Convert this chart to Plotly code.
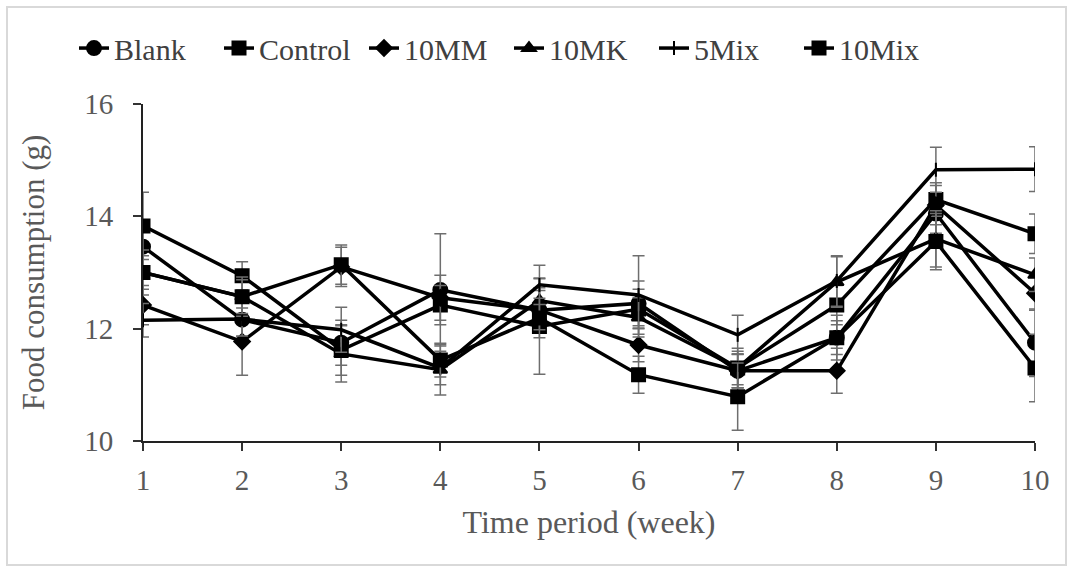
import plotly.graph_objects as go

weeks = [1, 2, 3, 4, 5, 6, 7, 8, 9, 10]

blank = [13.46, 12.16, 11.75, 12.69, 12.33, 12.45, 11.25, 11.84, 14.05, 11.75]
control = [13.83, 12.94, 11.62, 12.42, 12.04, 12.35, 11.30, 12.42, 14.30, 13.69]
mm10 = [12.42, 11.77, 13.10, 12.55, 12.33, 11.71, 11.25, 11.25, 14.20, 12.63]
mk10 = [13.00, 12.57, 11.55, 11.27, 12.50, 12.20, 11.30, 12.83, 13.60, 12.96]
mix5 = [12.15, 12.17, 11.98, 11.30, 12.78, 12.60, 11.89, 12.85, 14.83, 14.84]
mix10 = [13.00, 12.57, 13.14, 11.44, 12.19, 11.18, 10.79, 11.84, 13.55, 11.30]

blank_err = [0.35, 0.30, 0.40, 1.00, 0.40, 0.40, 0.30, 0.40, 0.35, 0.60]
control_err = [0.60, 0.25, 0.45, 0.35, 0.85, 0.35, 0.30, 0.35, 0.30, 0.35]
mm10_err = [0.35, 0.60, 0.35, 0.40, 0.35, 0.30, 0.30, 0.40, 0.35, 0.30]
mk10_err = [0.30, 0.35, 0.50, 0.45, 0.40, 0.35, 0.35, 0.45, 0.50, 0.30]
mix5_err = [0.30, 0.30, 0.40, 0.30, 0.35, 0.70, 0.35, 0.45, 0.40, 0.40]
mix10_err = [0.40, 0.30, 0.35, 0.30, 0.35, 0.33, 0.60, 0.30, 0.50, 0.60]

series = [
    ("Blank", blank, blank_err, "circle", 14),
    ("Control", control, control_err, "square", 13),
    ("10MM", mm10, mm10_err, "diamond", 12),
    ("10MK", mk10, mk10_err, "triangle-up", 12),
    ("5Mix", mix5, mix5_err, "line-ns", 10),
    ("10Mix", mix10, mix10_err, "square", 13),
]

fig = go.Figure()
for name, vals, err, sym, sz in series:
    fig.add_trace(go.Scatter(
        x=weeks, y=vals, name=name, mode="lines+markers",
        line=dict(color="black", width=3.5),
        marker=dict(symbol=sym, size=sz, color="black",
                    line=dict(color="black", width=2)),
        error_y=dict(type="data", array=err, visible=True,
                     color="#6e6e6e", thickness=1.5, width=6),
    ))

font_family = "Liberation Serif, Times New Roman, serif"

fig.update_layout(
    width=1071, height=570,
    margin=dict(l=143, r=36, t=104, b=129),
    paper_bgcolor="white", plot_bgcolor="white",
    font=dict(family=font_family, size=29, color="#595959"),
    showlegend=True,
    legend=dict(orientation="h", x=(74 - 143) / 892, xanchor="left",
                y=1.166, yanchor="middle", font=dict(size=30, color="#404040"),
                entrywidth=100, entrywidthmode="pixels",
                tracegroupgap=0, bgcolor="rgba(0,0,0,0)"),
    xaxis=dict(range=[1, 10], tickmode="array", tickvals=weeks,
               ticks="outside", ticklen=8, tickwidth=1.5, tickcolor="#333",
               ticklabelstandoff=4,
               showline=True, linecolor="#222", linewidth=2,
               showgrid=False, zeroline=False,
               title=dict(text="Time period (week)", standoff=16,
                          font=dict(size=32, color="#595959"))),
    yaxis=dict(range=[10, 16], tickvals=[10, 12, 14, 16],
               ticks="outside", ticklen=8, tickwidth=1.5, tickcolor="#333",
               ticklabelstandoff=14,
               showline=True, linecolor="#222", linewidth=2,
               showgrid=False, zeroline=False,
               title=dict(text="Food consumption (g)", standoff=30,
                          font=dict(size=31, color="#595959"))),
    shapes=[dict(type="rect", xref="paper", yref="paper",
                 x0=(7 - 143) / 892, x1=(1066 - 143) / 892,
                 y0=(441 - 565) / 337, y1=(441 - 7) / 337,
                 line=dict(color="#d9d9d9", width=2), layer="below")],
)

fig.write_html("out.html")
